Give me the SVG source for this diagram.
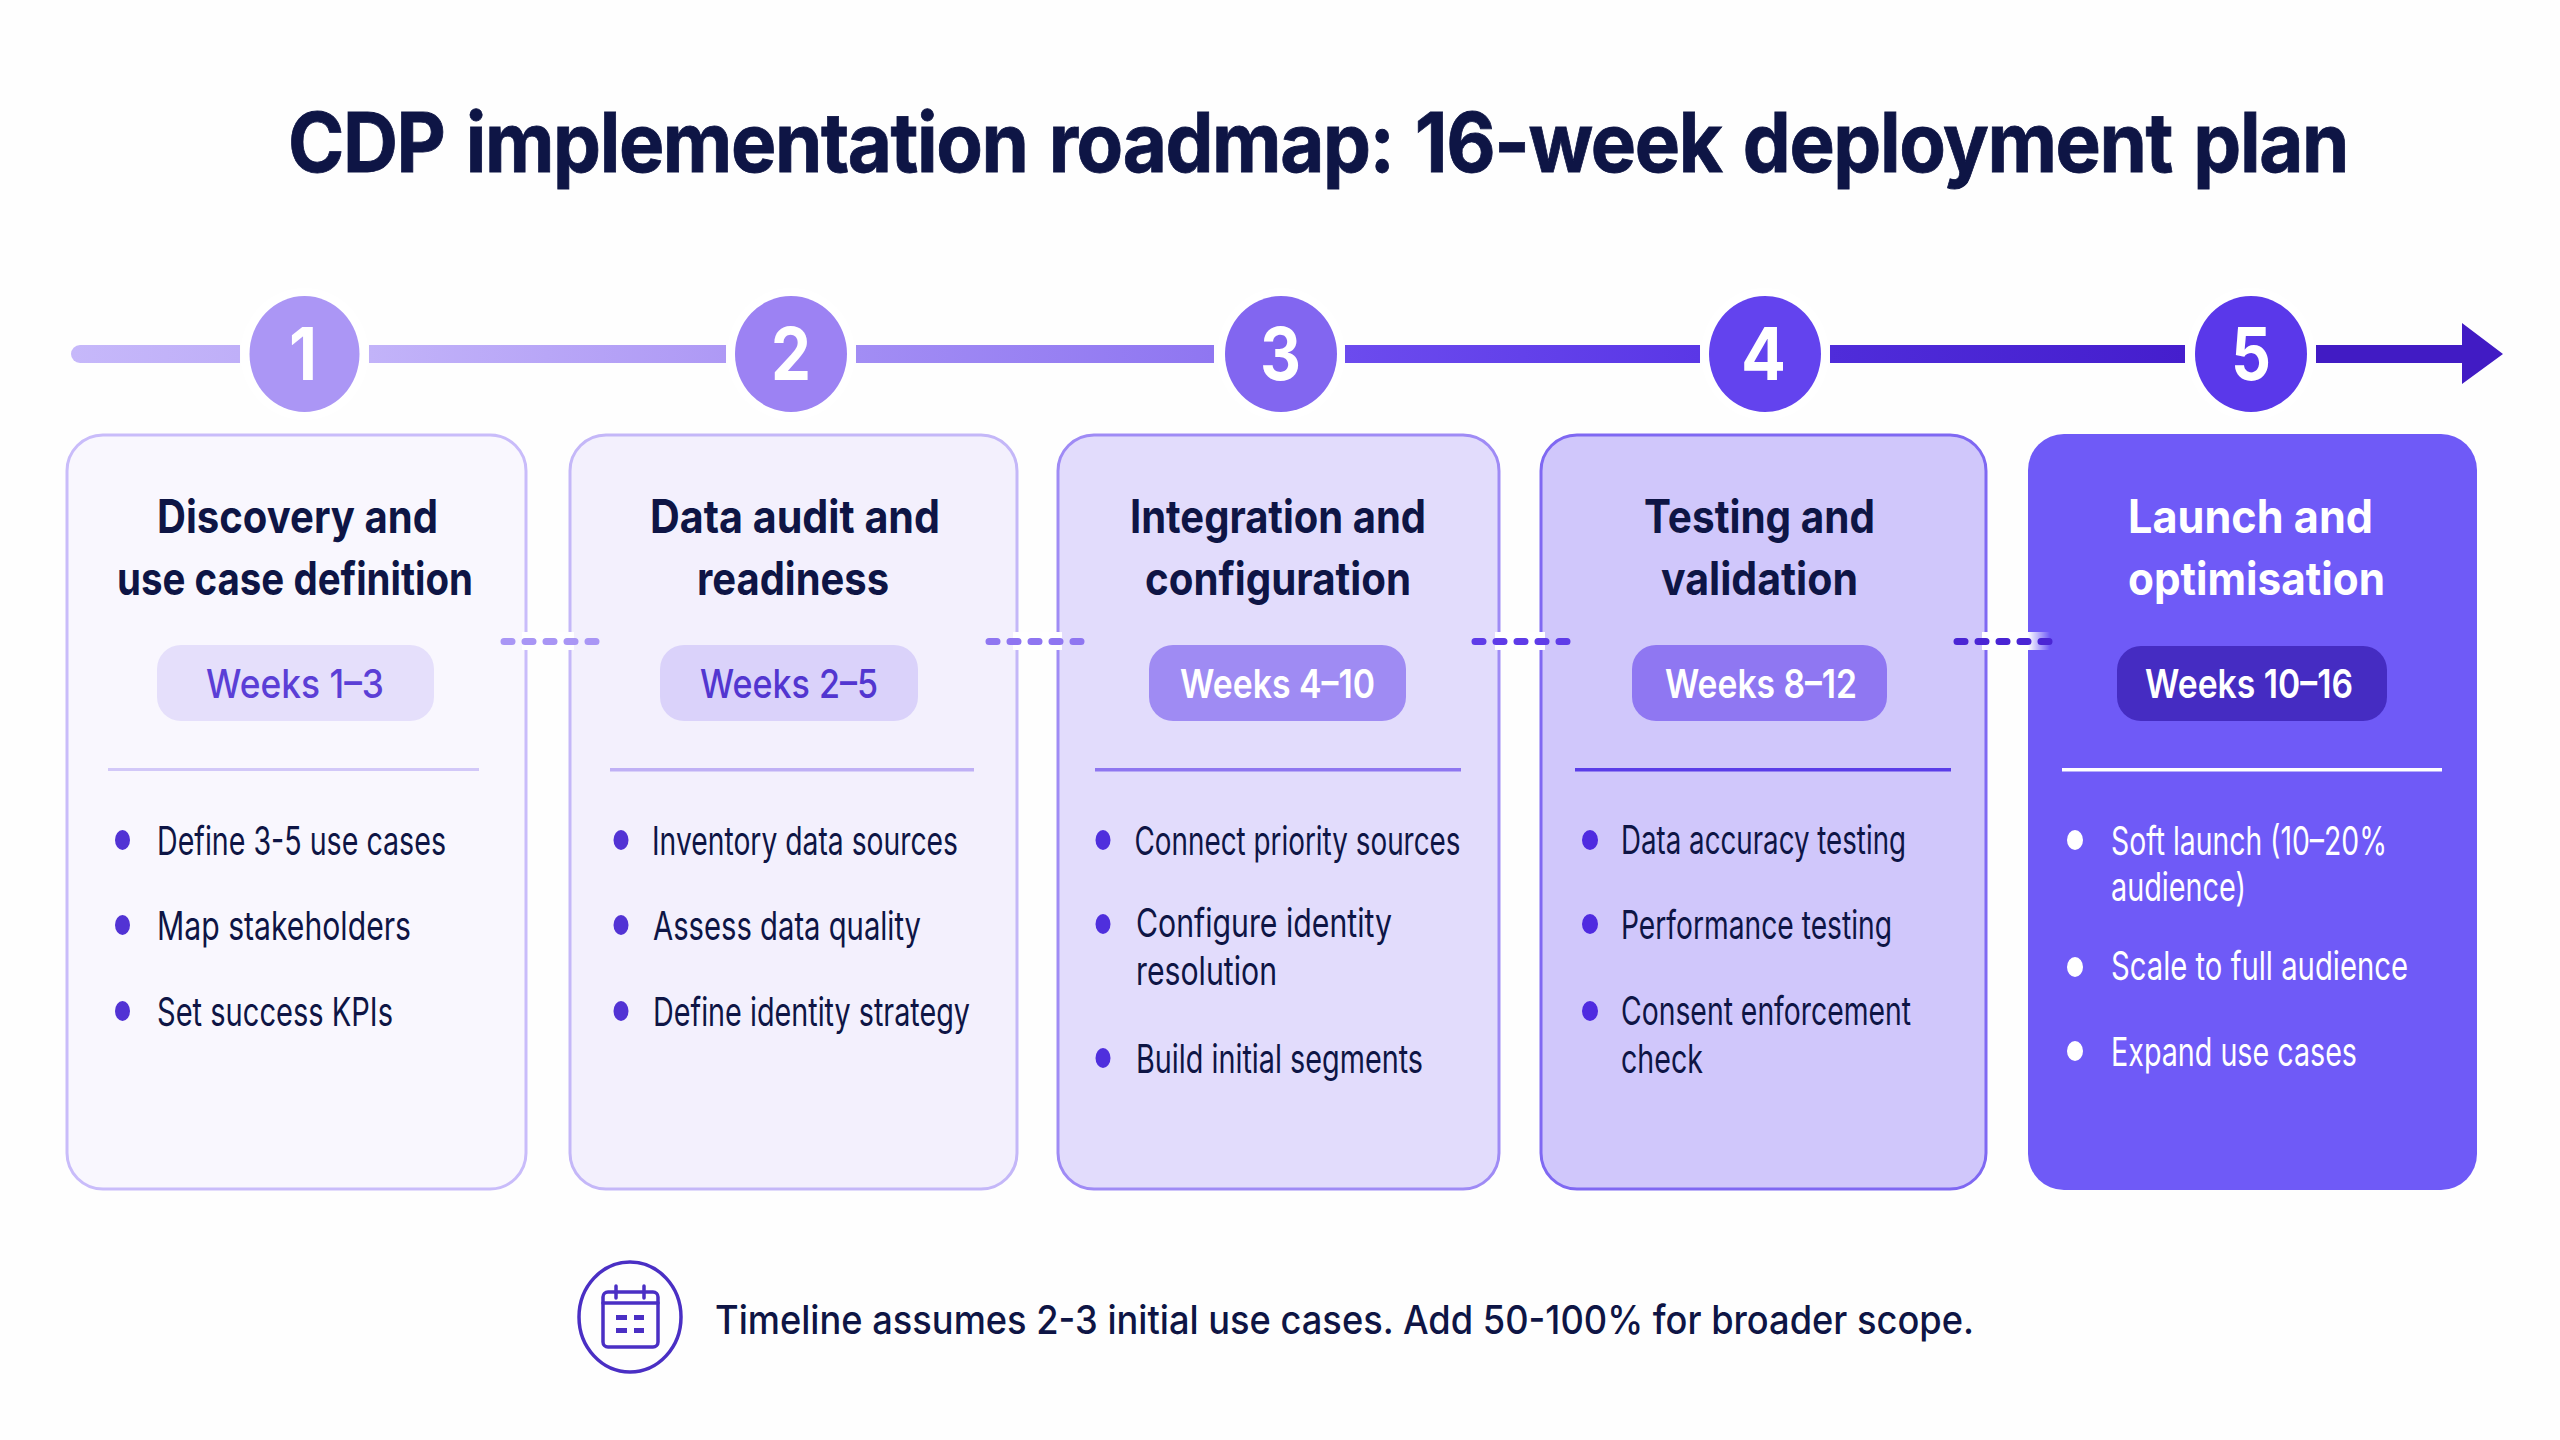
<svg xmlns="http://www.w3.org/2000/svg" width="2560" height="1440" viewBox="0 0 2560 1440">
<style>
text{font-family:Inter,"Noto Sans","Liberation Sans",sans-serif;fill:#0e1545}
.h{font-size:46px;font-weight:700}
.w{font-size:40px;font-weight:500}
.b{font-size:39px;font-weight:400}
.n{font-size:73px;font-weight:700;fill:#fff}
.dash{stroke-width:7;stroke-linecap:round;fill:none;stroke-dasharray:8 13}
.gap{fill:#fff}
</style>
<defs>
<linearGradient id="s1" x1="0" x2="1" y1="0" y2="0"><stop offset="0" stop-color="#c6b8fa"/><stop offset="1" stop-color="#bfaff8"/></linearGradient>
<linearGradient id="s2" x1="0" x2="1" y1="0" y2="0"><stop offset="0" stop-color="#c2b3f9"/><stop offset="1" stop-color="#ae99f5"/></linearGradient>
<linearGradient id="s3" x1="0" x2="1" y1="0" y2="0"><stop offset="0" stop-color="#a28df4"/><stop offset="1" stop-color="#8f76f1"/></linearGradient>
<linearGradient id="s4" x1="0" x2="1" y1="0" y2="0"><stop offset="0" stop-color="#6c4bee"/><stop offset="1" stop-color="#5a37e6"/></linearGradient>
<linearGradient id="s5" x1="0" x2="1" y1="0" y2="0"><stop offset="0" stop-color="#4f2cda"/><stop offset="1" stop-color="#451ecd"/></linearGradient>
<linearGradient id="fade" x1="0" x2="1" y1="0" y2="0"><stop offset="0" stop-color="#fff"/><stop offset="1" stop-color="#fff" stop-opacity="0"/></linearGradient>
</defs>
<rect width="2560" height="1440" fill="#fefefe"/>
<text id="title" x="288" y="172" font-size="82" font-weight="700" stroke="#0e1545" stroke-width="0.800" word-spacing="5" letter-spacing="-1.500" textLength="2060" lengthAdjust="spacingAndGlyphs">CDP implementation roadmap: 16-week deployment plan</text>

<g id="card-1">
<rect x="67" y="435" width="459" height="754" rx="36" fill="#f9f7fe" stroke="#c9bcfa" stroke-width="3"/>
<text class="h" x="157" y="533" textLength="281" lengthAdjust="spacingAndGlyphs">Discovery and</text>
<text class="h" x="117" y="595" textLength="356" lengthAdjust="spacingAndGlyphs">use case definition</text>
<rect x="157" y="645" width="277" height="76" rx="24" fill="#e5dffb"/>
<text class="w" x="206" y="698" textLength="178" lengthAdjust="spacingAndGlyphs" style="fill:#5b3fd6">Weeks 1–3</text>
<rect x="108" y="768" width="371" height="3" fill="#d2c8f8"/>
<ellipse cx="122.500" cy="840" rx="7.500" ry="10" fill="#5233d4"/><text class="b" x="157" y="854.500" textLength="289" lengthAdjust="spacingAndGlyphs">Define 3-5 use cases</text>
<ellipse cx="122.500" cy="925" rx="7.500" ry="10" fill="#5233d4"/><text class="b" x="157" y="939.500" textLength="254" lengthAdjust="spacingAndGlyphs">Map stakeholders</text>
<ellipse cx="122.500" cy="1011" rx="7.500" ry="10" fill="#5233d4"/><text class="b" x="157" y="1025.500" textLength="236" lengthAdjust="spacingAndGlyphs">Set success KPIs</text>
</g>

<g id="card-2">
<rect x="570" y="435" width="447" height="754" rx="36" fill="#f3f0fd" stroke="#c4b7f8" stroke-width="3"/>
<text class="h" x="650" y="533" textLength="290" lengthAdjust="spacingAndGlyphs">Data audit and</text>
<text class="h" x="697" y="595" textLength="192" lengthAdjust="spacingAndGlyphs">readiness</text>
<rect x="660" y="645" width="258" height="76" rx="24" fill="#dad2fa"/>
<text class="w" x="700" y="698" textLength="178" lengthAdjust="spacingAndGlyphs" style="fill:#5236d0">Weeks 2–5</text>
<rect x="610" y="768" width="364" height="3.500" fill="#bfb0f5"/>
<ellipse cx="621" cy="840" rx="7.500" ry="10" fill="#5233d4"/><text class="b" x="652" y="854.500" textLength="306" lengthAdjust="spacingAndGlyphs">Inventory data sources</text>
<ellipse cx="621" cy="925" rx="7.500" ry="10" fill="#5233d4"/><text class="b" x="653" y="939.500" textLength="268" lengthAdjust="spacingAndGlyphs">Assess data quality</text>
<ellipse cx="621" cy="1011" rx="7.500" ry="10" fill="#5233d4"/><text class="b" x="653" y="1025.500" textLength="317" lengthAdjust="spacingAndGlyphs">Define identity strategy</text>
</g>

<g id="card-3">
<rect x="1058" y="435" width="441" height="754" rx="36" fill="#e2dcfc" stroke="#9f8bf5" stroke-width="3"/>
<text class="h" x="1130" y="533" textLength="296" lengthAdjust="spacingAndGlyphs">Integration and</text>
<text class="h" x="1145" y="595" textLength="266" lengthAdjust="spacingAndGlyphs">configuration</text>
<rect x="1149" y="645" width="257" height="76" rx="24" fill="#9f8bf3"/>
<text class="w" x="1180" y="698" textLength="195" lengthAdjust="spacingAndGlyphs" style="fill:#fff;font-weight:600">Weeks 4–10</text>
<rect x="1095" y="768" width="366" height="3.500" fill="#8e76f0"/>
<ellipse cx="1103" cy="840" rx="7.500" ry="10" fill="#4f2fdd"/><text class="b" x="1134.500" y="854.500" textLength="326" lengthAdjust="spacingAndGlyphs">Connect priority sources</text>
<ellipse cx="1103" cy="924" rx="7.500" ry="10" fill="#4f2fdd"/><text class="b" x="1136" y="936.500" textLength="256" lengthAdjust="spacingAndGlyphs">Configure identity</text>
<text class="b" x="1136" y="985" textLength="141" lengthAdjust="spacingAndGlyphs">resolution</text>
<ellipse cx="1103" cy="1058" rx="7.500" ry="10" fill="#4f2fdd"/><text class="b" x="1136" y="1073" textLength="287" lengthAdjust="spacingAndGlyphs">Build initial segments</text>
</g>

<g id="card-4">
<rect x="1541" y="435" width="445" height="754" rx="36" fill="#d0c7fb" stroke="#7f68f2" stroke-width="3"/>
<text class="h" x="1644" y="533" textLength="231" lengthAdjust="spacingAndGlyphs">Testing and</text>
<text class="h" x="1661" y="595" textLength="197" lengthAdjust="spacingAndGlyphs">validation</text>
<rect x="1632" y="645" width="255" height="76" rx="24" fill="#8f77f2"/>
<text class="w" x="1665" y="698" textLength="192" lengthAdjust="spacingAndGlyphs" style="fill:#fff;font-weight:600">Weeks 8–12</text>
<rect x="1575" y="768" width="376" height="3.500" fill="#5a3de8"/>
<ellipse cx="1590" cy="840" rx="8" ry="10" fill="#4f2be0"/><text class="b" x="1621" y="854" textLength="285" lengthAdjust="spacingAndGlyphs">Data accuracy testing</text>
<ellipse cx="1590" cy="924" rx="8" ry="10" fill="#4f2be0"/><text class="b" x="1621" y="939" textLength="271" lengthAdjust="spacingAndGlyphs">Performance testing</text>
<ellipse cx="1590" cy="1011" rx="8" ry="10" fill="#4f2be0"/><text class="b" x="1621" y="1025" textLength="290" lengthAdjust="spacingAndGlyphs">Consent enforcement</text>
<text class="b" x="1621" y="1073" textLength="82" lengthAdjust="spacingAndGlyphs">check</text>
</g>

<g id="card-5">
<rect x="2028" y="434" width="449" height="756" rx="36" fill="#6f5af7"/>
<text class="h" x="2128" y="533" textLength="245" lengthAdjust="spacingAndGlyphs" style="fill:#fff">Launch and</text>
<text class="h" x="2128" y="595" textLength="257" lengthAdjust="spacingAndGlyphs" style="fill:#fff">optimisation</text>
<rect x="2117" y="646" width="270" height="75" rx="24" fill="#452cc2"/>
<text class="w" x="2145" y="698" textLength="208" lengthAdjust="spacingAndGlyphs" style="fill:#fff;font-weight:600">Weeks 10–16</text>
<rect x="2062" y="768" width="380" height="3.500" fill="#fff"/>
<ellipse cx="2075" cy="840" rx="8" ry="10" fill="#fff"/><text class="b" x="2111" y="854.500" textLength="276" lengthAdjust="spacingAndGlyphs" style="fill:#fff">Soft launch (10–20%</text>
<text class="b" x="2111" y="900.500" textLength="135" lengthAdjust="spacingAndGlyphs" style="fill:#fff">audience)</text>
<ellipse cx="2075" cy="967" rx="8" ry="10" fill="#fff"/><text class="b" x="2111" y="980" textLength="297" lengthAdjust="spacingAndGlyphs" style="fill:#fff">Scale to full audience</text>
<ellipse cx="2075" cy="1051" rx="8" ry="10" fill="#fff"/><text class="b" x="2111" y="1065.500" textLength="246" lengthAdjust="spacingAndGlyphs" style="fill:#fff">Expand use cases</text>
</g>

<g id="connectors">
<path d="M240 345H80a9 9 0 0 0 0 18H240Z" fill="url(#s1)"/>
<rect x="369" y="345" width="357" height="18" fill="url(#s2)"/>
<rect x="856" y="345" width="358" height="18" fill="url(#s3)"/>
<rect x="1345" y="345" width="355" height="18" fill="url(#s4)"/>
<rect x="1830" y="345" width="355" height="18" fill="url(#s5)"/>
<path d="M2316 345H2462V323L2503 354L2462 384V363H2316Z" fill="#411bc4"/>
<rect class="gap" x="522" y="632" width="52" height="18"/>
<rect class="gap" x="1013" y="632" width="49" height="18"/>
<rect class="gap" x="1495" y="632" width="50" height="18"/>
<rect class="gap" x="1982" y="632" width="46" height="18"/>
<rect x="2028" y="632" width="22" height="18" fill="url(#fade)"/>
<path class="dash" d="M504 641.500H596" stroke="#a996f5"/>
<path class="dash" d="M989 641.500H1082" stroke="#8f76f1"/>
<path class="dash" d="M1475 641.500H1568" stroke="#5f3ce8"/>
<path class="dash" d="M1957 641.500H2049" stroke="#4a25d4"/>
</g>

<g id="step-1"><ellipse cx="304.500" cy="354" rx="64" ry="66" fill="#fff"/><ellipse cx="304.500" cy="354" rx="55" ry="58" fill="#ab96f5"/><text class="n" x="289" y="380" textLength="28" lengthAdjust="spacingAndGlyphs">1</text></g>
<g id="step-2"><ellipse cx="791" cy="354" rx="64" ry="66" fill="#fff"/><ellipse cx="791" cy="354" rx="56" ry="58" fill="#9c82f3"/><text class="n" x="771" y="380" textLength="40" lengthAdjust="spacingAndGlyphs">2</text></g>
<g id="step-3"><ellipse cx="1281" cy="354" rx="64" ry="66" fill="#fff"/><ellipse cx="1281" cy="354" rx="56" ry="58" fill="#8266f0"/><text class="n" x="1260" y="380" textLength="41" lengthAdjust="spacingAndGlyphs">3</text></g>
<g id="step-4"><ellipse cx="1765" cy="354" rx="64" ry="66" fill="#fff"/><ellipse cx="1765" cy="354" rx="56" ry="58" fill="#6343ee"/><text class="n" x="1741" y="380" textLength="45" lengthAdjust="spacingAndGlyphs">4</text></g>
<g id="step-5"><ellipse cx="2251" cy="354" rx="64" ry="66" fill="#fff"/><ellipse cx="2251" cy="354" rx="56" ry="58" fill="#5a38ea"/><text class="n" x="2231" y="380" textLength="40" lengthAdjust="spacingAndGlyphs">5</text></g>

<g id="footnote">
<ellipse cx="630" cy="1317" rx="51" ry="55" fill="none" stroke="#4a2fc4" stroke-width="3.500"/>
<g fill="none" stroke="#4a2fc4" stroke-width="3.500" stroke-linecap="round">
<rect x="603" y="1292" width="55" height="55" rx="5"/>
<path d="M603 1303H658M616 1286V1298M644 1286V1298"/>
</g>
<g fill="#4a2fc4"><rect x="616" y="1315" width="11" height="5"/><rect x="634" y="1315" width="10" height="5"/><rect x="616" y="1328" width="11" height="5"/><rect x="634" y="1328" width="10" height="5"/></g>
<text x="715" y="1333.500" font-size="39" font-weight="500" textLength="1259" lengthAdjust="spacingAndGlyphs">Timeline assumes 2-3 initial use cases. Add 50-100% for broader scope.</text>
</g>
</svg>
